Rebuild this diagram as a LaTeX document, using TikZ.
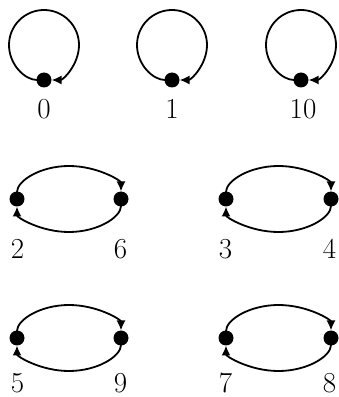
\documentclass[tikz,border=0pt]{standalone}
\usetikzlibrary{arrows.meta}
\begin{document}
\begin{tikzpicture}[x=1pt,y=1pt,
  dot/.style={circle,fill=black,inner sep=0pt,minimum size=15pt},
  lbl/.style={anchor=base,inner sep=0pt,font=\fontsize{29}{34}\selectfont},
  conn/.style={line width=1.8pt,-{Latex[length=10pt,width=9pt]},shorten <=7pt,shorten >=7.5pt}]
\useasboundingbox (0,0) rectangle (338,397);
% row 1: self loops
\node[dot] (d0) at (44,317) {};
\node[dot] (d1) at (172,317) {};
\node[dot] (d10) at (301,317) {};
\draw[conn] (d0.center) arc[start angle=-90,end angle=-450,radius=35];
\draw[conn] (d1.center) arc[start angle=-90,end angle=-450,radius=35];
\draw[conn] (d10.center) arc[start angle=-90,end angle=-450,radius=35];
\node[lbl] (l0) at (44,278) {0};
\node[lbl] (l1) at (172,278) {1};
\node[lbl] (l10) at (303,278) {10};
% row 2
\node[dot] (d2) at (17,198) {};
\node[dot] (d6) at (121,198) {};
\node[dot] (d3) at (226,198) {};
\node[dot] (d4) at (331,198) {};
\draw[conn] (d2.center) arc[start angle=180,end angle=0,x radius=52,y radius=33];
\draw[conn] (d6.center) arc[start angle=0,end angle=-180,x radius=52,y radius=33];
\draw[conn] (d3.center) arc[start angle=180,end angle=0,x radius=52.5,y radius=33];
\draw[conn] (d4.center) arc[start angle=0,end angle=-180,x radius=52.5,y radius=33];
\node[lbl] (l2) at (17.5,138) {2};
\node[lbl] (l6) at (120.5,138) {6};
\node[lbl] (l3) at (225.5,138) {3};
\node[lbl] (l4) at (329.5,138) {4};
% row 3
\node[dot] (d5) at (17,59) {};
\node[dot] (d9) at (121,59) {};
\node[dot] (d7) at (226,59) {};
\node[dot] (d8) at (331,59) {};
\draw[conn] (d5.center) arc[start angle=180,end angle=0,x radius=52,y radius=33];
\draw[conn] (d9.center) arc[start angle=0,end angle=-180,x radius=52,y radius=33];
\draw[conn] (d7.center) arc[start angle=180,end angle=0,x radius=52.5,y radius=33];
\draw[conn] (d8.center) arc[start angle=0,end angle=-180,x radius=52.5,y radius=33];
\node[lbl] (l5) at (17.5,4.5) {5};
\node[lbl] (l9) at (120.5,4.5) {9};
\node[lbl] (l7) at (225.5,4.5) {7};
\node[lbl] (l8) at (329.5,4.5) {8};
\end{tikzpicture}
\end{document}
